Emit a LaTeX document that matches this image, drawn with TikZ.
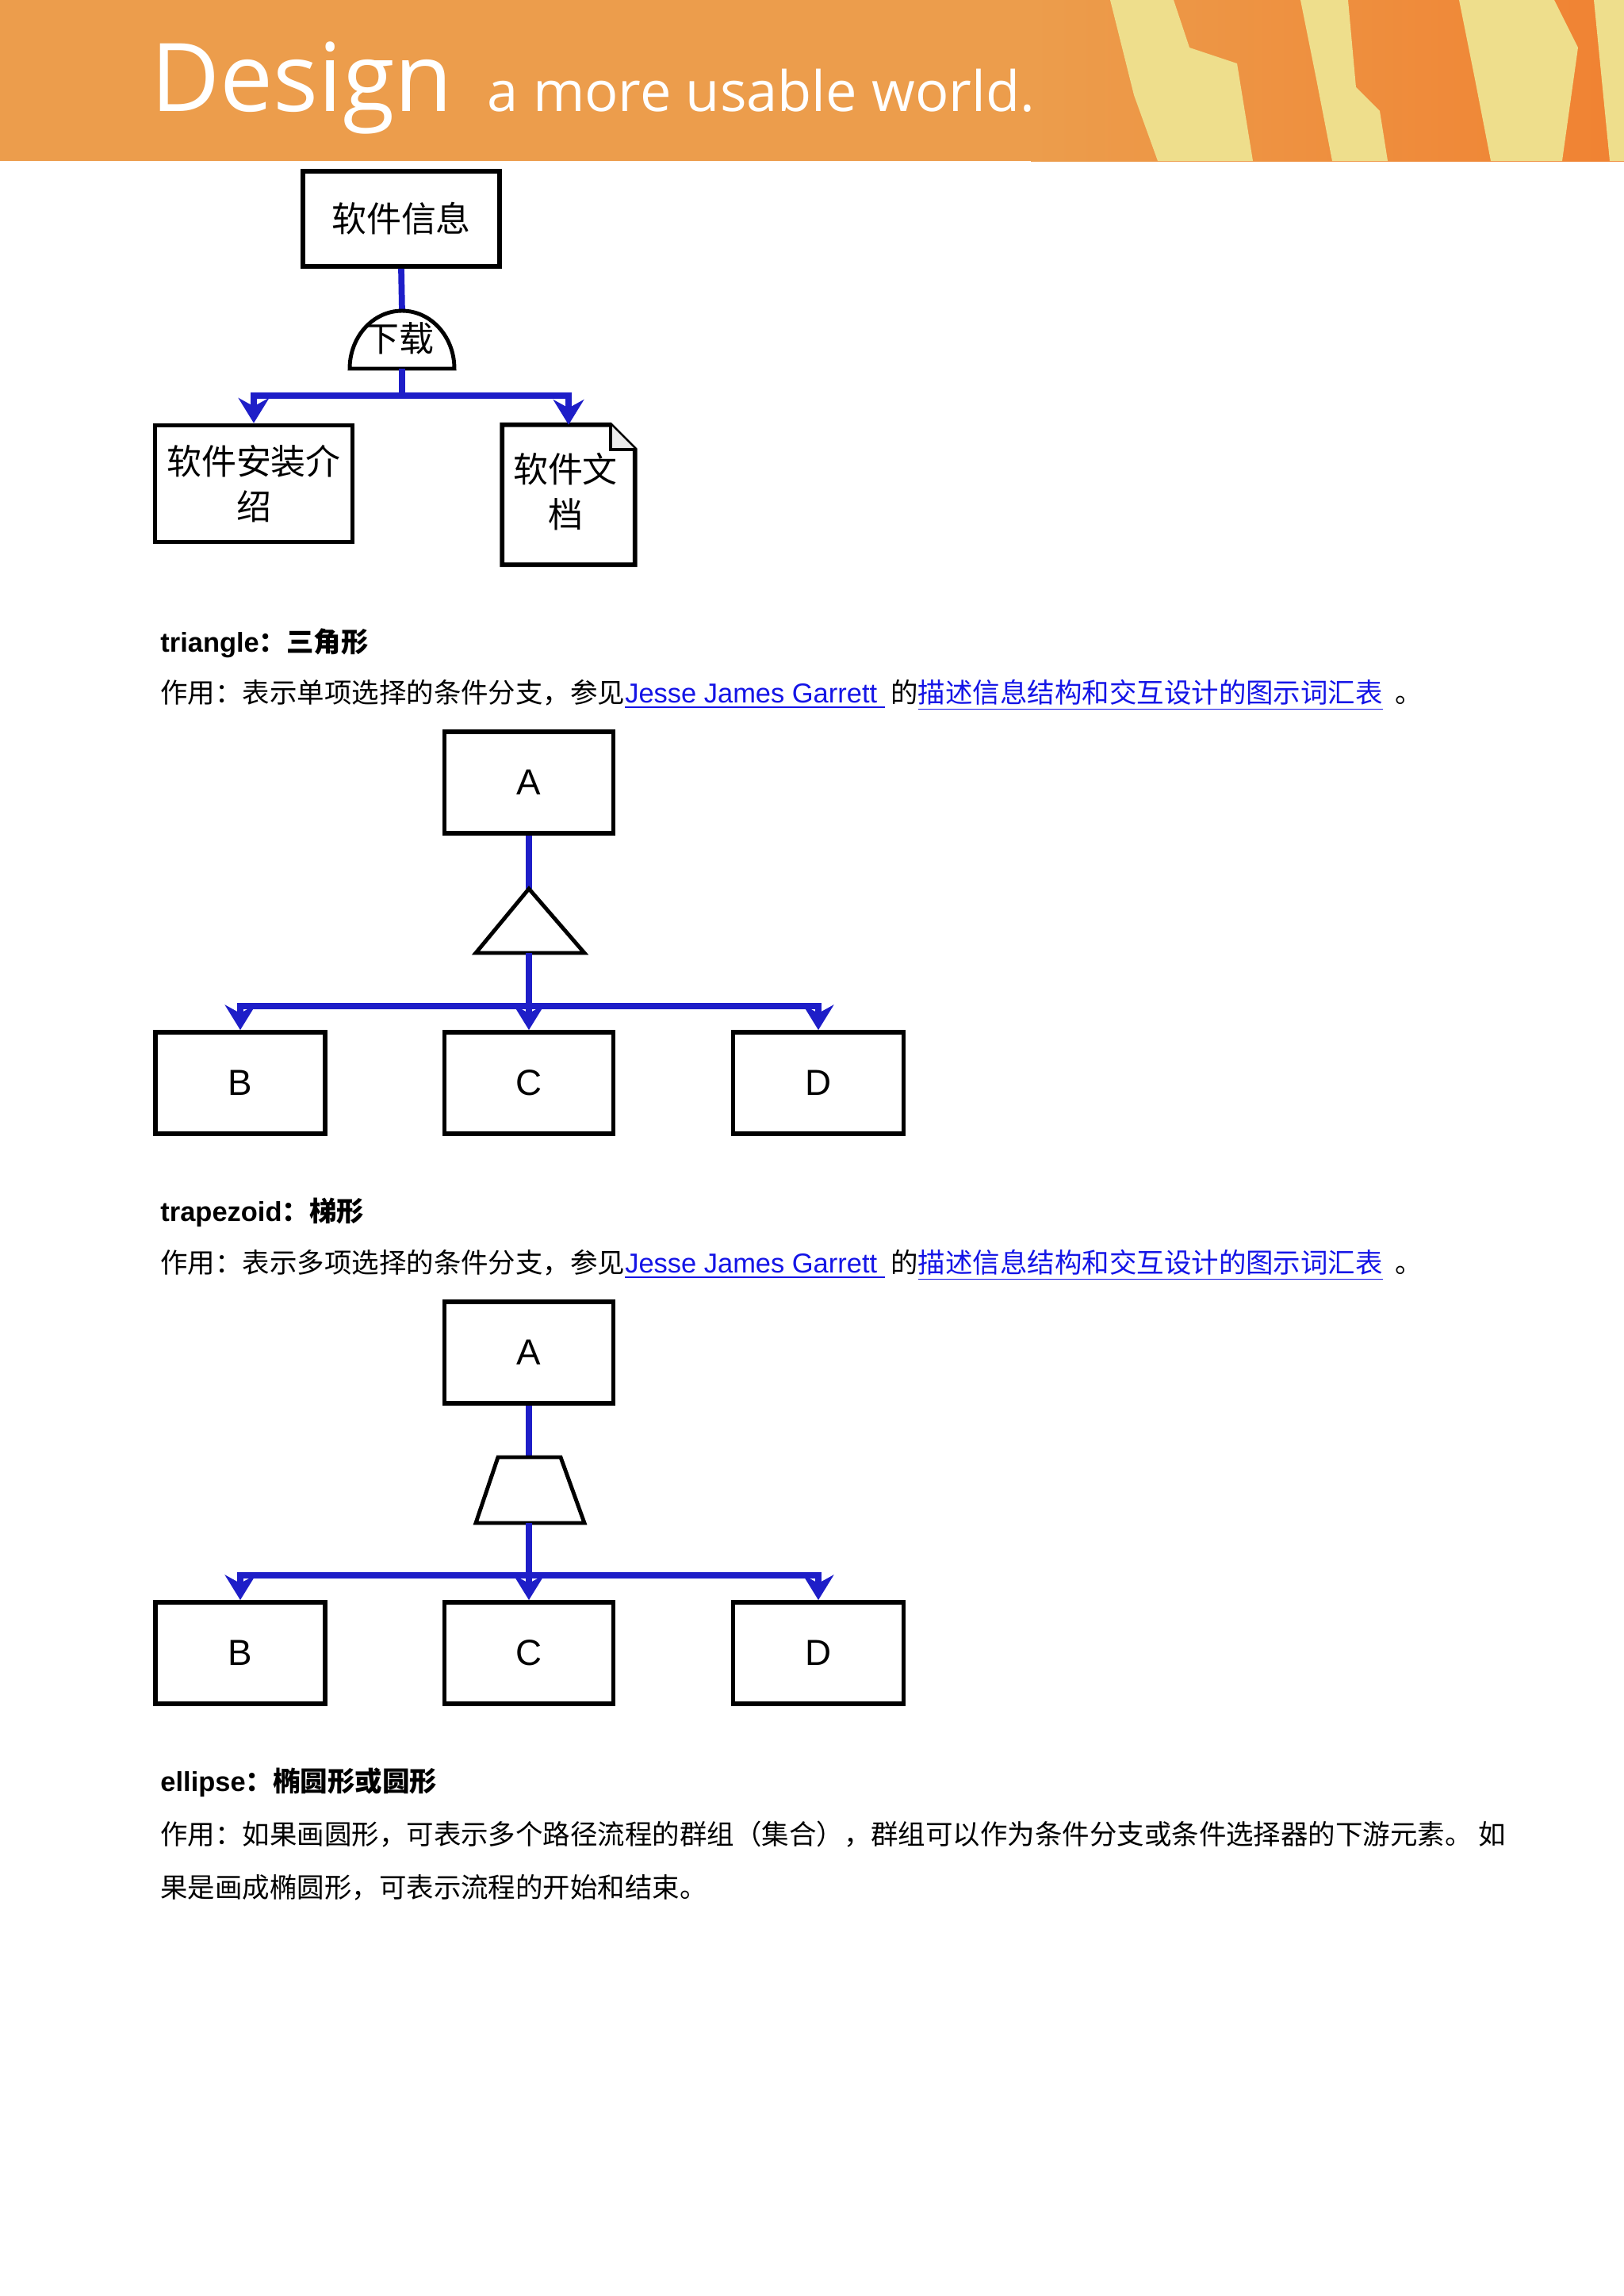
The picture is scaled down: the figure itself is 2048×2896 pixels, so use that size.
\documentclass[tikz,border=0pt]{standalone}
\usepackage{fontspec}
\setmainfont{Liberation Sans}
\newfontfamily\cjk{Noto Sans CJK SC}
\newfontfamily\ban{Open Sans}
\usetikzlibrary{arrows.meta,calc}
\definecolor{lk}{RGB}{20,20,230}
\definecolor{bl}{RGB}{30,30,200}
\definecolor{bor}{RGB}{236,157,76}
\definecolor{bred}{RGB}{240,130,50}
\definecolor{byel}{RGB}{238,222,140}
\begin{document}
\begin{tikzpicture}[x=0.01cm,y=-0.01cm,
  bx/.style={draw,line width=1.6pt,inner sep=0pt,font=\cjk\fontsize{12.5pt}{16pt}\selectfont,align=center},
  lt/.style={draw,line width=1.6pt,inner sep=0pt,font=\fontsize{13pt}{15pt}\selectfont},
  wire/.style={draw=bl,line width=2.2pt},
  arr/.style={wire,-{Stealth[length=9pt,width=11pt,inset=3pt]}},
  head/.style={anchor=west,font=\bfseries\fontsize{9.8pt}{12pt}\selectfont},
  body/.style={anchor=west,font=\cjk\fontsize{9.8pt}{12pt}\selectfont}]
\useasboundingbox (0,0) rectangle (2048,2896);
\fill[white] (0,0) rectangle (2048,2896);
% banner
\fill[bor] (0,0) rectangle (2048,203);
\shade[left color=bor, right color=bred] (1300,0) rectangle (2048,203);
\begin{scope}[fill=byel]
\fill (1400,0) -- (1480,0) -- (1500,60) -- (1560,80) -- (1580,203) -- (1460,203) -- (1430,120) -- cycle;
\fill (1640,0) -- (1700,0) -- (1710,110) -- (1740,140) -- (1750,203) -- (1680,203) -- (1660,100) -- cycle;
\fill (1840,0) -- (1960,0) -- (1990,60) -- (1970,203) -- (1880,203) -- (1860,100) -- cycle;
\fill (2010,0) -- (2048,0) -- (2048,203) -- (2030,203) -- cycle;
\end{scope}
\node[anchor=base west,text=white,font=\ban\fontsize{34pt}{36pt}\selectfont,inner sep=0] (t1) at (190,140) {Design};
\node[anchor=base west,text=white,font=\ban\fontsize{20pt}{22pt}\selectfont,inner sep=0] (t2) at ([xshift=12]t1.base east) {a more usable world.};
% diagram 1
\node[bx,minimum width=2.48cm,minimum height=1.2cm] (s) at (506,276) {软件信息};
\node[bx,minimum width=2.49cm,minimum height=1.47cm] (i) at (320,610) {软件安装介\\绍};
\node[draw=none,minimum width=1.66cm,minimum height=1.75cm,inner sep=0] (d) at (717,624) {};
\draw[line width=1.6pt] (d.north west) -- ($(d.north east)+(-31,0)$) -- ($(d.north east)+(0,31)$) -- (d.south east) -- (d.south west) -- cycle;
\draw[line width=1.2pt,fill=gray!15] ($(d.north east)+(-31,0)$) -- ($(d.north east)+(-31,31)$) -- ($(d.north east)+(0,31)$);
\node[font=\cjk\fontsize{12.5pt}{16pt}\selectfont,align=center] (dt) at (713,620) {软件文\\档};
\coordinate (hc) at (507,465);
\draw[wire] (s.south) -- (507,392);
\draw[line width=1.4pt,fill=white] (441,465) arc[start angle=180,end angle=360,x radius=66,y radius=73] -- cycle;
\node[font=\cjk\fontsize{12.5pt}{16pt}\selectfont] (hl) at (503,427) {下载};
\coordinate (j1) at (507,499);
\draw[wire] (hc) -- (j1);
\draw[arr] (j1) -| (i.north);
\draw[arr] (j1) -| (d.north);
% texts 1
\node[head] (h1) at (190,811) {triangle{\cjk：三角形}};
\node[body] (b1) at (190,877) {作用：表示单项选择的条件分支，参见\textcolor{lk}{\underline{\fontspec{Liberation Sans}Jesse James Garrett\ }}\ 的\textcolor{lk}{\underline{描述信息结构和交互设计的图示词汇表}}\ \ 。};
% diagram 2
\node[lt,minimum width=2.13cm,minimum height=1.28cm] (a2) at (667,987) {A};
\node[lt,minimum width=2.14cm,minimum height=1.28cm] (b2) at (303,1366) {B};
\node[lt,minimum width=2.13cm,minimum height=1.28cm] (c2) at (667,1366) {C};
\node[lt,minimum width=2.15cm,minimum height=1.28cm] (d2) at (1032,1366) {D};
\draw[wire] (a2.south) -- (667,1121);
\draw[line width=1.4pt] (667,1121) -- (737,1202) -- (600,1202) -- cycle;
\coordinate (tb) at (667,1202);
\coordinate (j2) at (667,1269);
\draw[arr] (tb) -- (c2.north);
\draw[arr] (j2) -| (b2.north);
\draw[arr] (j2) -| (d2.north);
% texts 2
\node[head] (h2) at (190,1529) {trapezoid{\cjk：梯形}};
\node[body] (b2t) at (190,1596) {作用：表示多项选择的条件分支，参见\textcolor{lk}{\underline{\fontspec{Liberation Sans}Jesse James Garrett\ }}\ 的\textcolor{lk}{\underline{描述信息结构和交互设计的图示词汇表}}\ \ 。};
% diagram 3
\node[lt,minimum width=2.13cm,minimum height=1.28cm] (a3) at (667,1706) {A};
\node[lt,minimum width=2.14cm,minimum height=1.28cm] (b3) at (303,2085) {B};
\node[lt,minimum width=2.13cm,minimum height=1.28cm] (c3) at (667,2085) {C};
\node[lt,minimum width=2.15cm,minimum height=1.28cm] (d3) at (1032,2085) {D};
\draw[wire] (a3.south) -- (667,1838);
\draw[line width=1.4pt] (628,1838) -- (707,1838) -- (737,1921) -- (600,1921) -- cycle;
\coordinate (zb) at (667,1921);
\coordinate (j3) at (667,1987);
\draw[arr] (zb) -- (c3.north);
\draw[arr] (j3) -| (b3.north);
\draw[arr] (j3) -| (d3.north);
% texts 3
\node[head] (h3) at (190,2248) {ellipse{\cjk：椭圆形或圆形}};
\node[body] (b3a) at (190,2314) {作用：如果画圆形，可表示多个路径流程的群组（集合），群组可以作为条件分支或条件选择器的下游元素。 如};
\node[body] (b3b) at (190,2381) {果是画成椭圆形，可表示流程的开始和结束。};
\end{tikzpicture}
\end{document}
